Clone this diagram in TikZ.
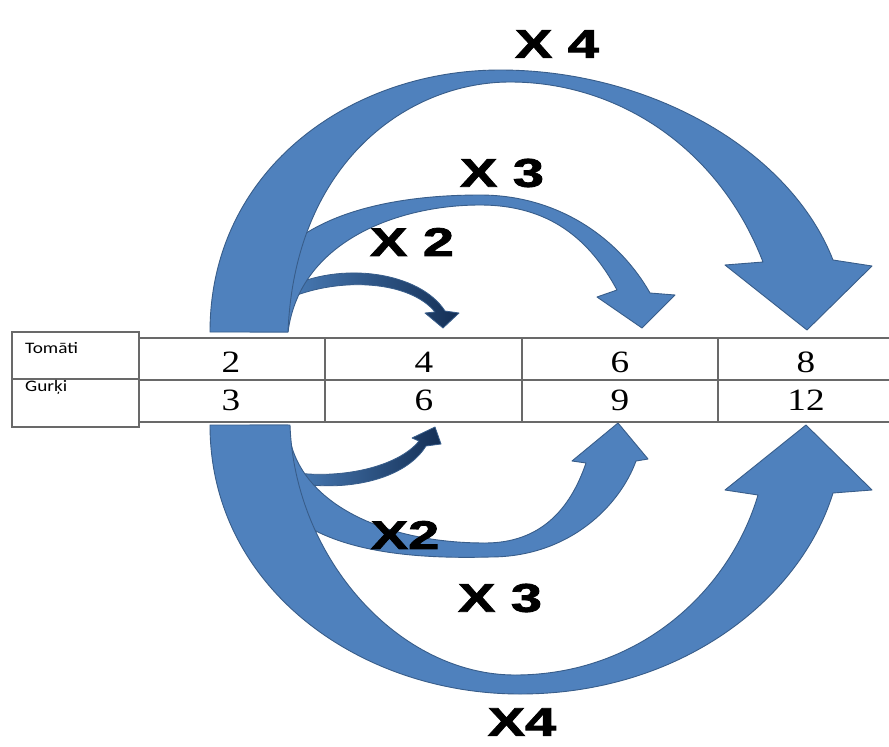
\documentclass[tikz,border=0pt]{standalone}
\usepackage{fontspec}
\usepackage{graphicx}
\setmainfont{Liberation Serif}
\newfontfamily\heavyfont[FakeBold=1.8]{Liberation Sans Bold}
\newfontfamily\cellfont{Carlito}
\definecolor{arrblue}{RGB}{79,129,189}
\definecolor{arredge}{RGB}{56,93,138}
\definecolor{xlight}{RGB}{74,125,184}
\definecolor{xdark}{RGB}{20,47,85}
\definecolor{gridgray}{RGB}{105,105,105}
\begin{document}
\begin{tikzpicture}[x=1pt,y=-1pt,
  arr/.style={fill=arrblue, draw=arredge, line width=0.9pt, line join=round},
  darr/.style={left color=xlight, right color=xdark, draw=arredge, line width=0.8pt, line join=round},
  mult/.style={font=\heavyfont\fontsize{40}{40}\selectfont, inner sep=0pt},
  num/.style={font=\fontsize{31}{31}\selectfont, inner sep=0pt},
  rowlbl/.style={font=\cellfont\fontsize{16}{16}\selectfont, inner sep=0pt, anchor=base west},
  grid/.style={draw=gridgray, line width=1.2pt}]
\useasboundingbox (0,0) rectangle (889,747);
\fill[white] (0,0) rectangle (889,747);

% ---------- upper arrows ----------
\shade[darr] (285,289) .. controls (340,260) and (420,272) .. (445,311)
  -- (459,313) -- (443,328) -- (425,313) -- (435,312)
  .. controls (410,281) and (340,276) .. (287,299) -- cycle;
\path[arr] (250,332) .. controls (250,230) and (360,195) .. (480,195)
  .. controls (560,195) and (620,240) .. (650,293)
  -- (675,295) -- (642,328) -- (597,297) -- (617,290)
  .. controls (590,240) and (550,205) .. (480,205)
  .. controls (400,205) and (300,240) .. (288,332) -- cycle;
\path[arr] (210,332) .. controls (210,170) and (350,70) .. (500,70)
  .. controls (650,70) and (790,150) .. (833,260)
  -- (872,266) -- (807,330) -- (725,265) -- (763,262)
  .. controls (720,150) and (620,82) .. (510,82)
  .. controls (410,82) and (295,160) .. (288,332) -- cycle;

% ---------- lower arrows ----------
\shade[darr] (290,482) .. controls (345,493) and (405,480) .. (426,446)
  -- (441,444) -- (435,427) -- (412,438) -- (419,441)
  .. controls (398,467) and (340,480) .. (290,472) -- cycle;
\path[arr] (250,425) .. controls (252,545) and (380,560) .. (490,557)
  .. controls (570,557) and (620,505) .. (636,461)
  -- (648,459) -- (618,423) -- (572,461) -- (586,463)
  .. controls (570,510) and (540,543) .. (485,543)
  .. controls (380,543) and (292,500) .. (288,425) -- cycle;
\path[arr] (210,425) .. controls (210,588) and (360,694) .. (520,694)
  .. controls (680,694) and (800,600) .. (833,493)
  -- (872,490) -- (806,425) -- (725,490) -- (758,495)
  .. controls (730,590) and (640,675) .. (515,675)
  .. controls (400,675) and (295,560) .. (290,425) -- cycle;

% ---------- table ----------
\filldraw[grid, fill=white] (12,332) rectangle (139,427);
\draw[grid] (12,379) -- (139,379);
\filldraw[grid, fill=white] (139,338) rectangle (900,422);
\draw[grid] (139,380) -- (900,380);
\foreach \xx in {325,522,718} \draw[grid] (\xx,338) -- (\xx,422);

\node[rowlbl] (tom) at (25,353) {\scalebox{1.2}[1]{Tomāti}};
\node[rowlbl] (gur) at (25,391) {\scalebox{1.2}[1]{Gurķi}};

\node[num] (a1) at (231,362) {\scalebox{1.2}[1]{2}};
\node[num] (a2) at (424,362) {\scalebox{1.2}[1]{4}};
\node[num] (a3) at (620,362) {\scalebox{1.2}[1]{6}};
\node[num] (a4) at (806,362) {\scalebox{1.2}[1]{8}};
\node[num] (b1) at (231,400) {\scalebox{1.2}[1]{3}};
\node[num] (b2) at (424,400) {\scalebox{1.2}[1]{6}};
\node[num] (b3) at (620,400) {\scalebox{1.2}[1]{9}};
\node[num] (b4) at (806,400) {\scalebox{1.2}[1]{12}};

% ---------- labels ----------
\node[mult] (u4) at (557,44) {\scalebox{1.4}[1]{X 4}};
\node[mult] (u3) at (502,173) {\scalebox{1.4}[1]{X 3}};
\node[mult] (u2) at (412,242) {\scalebox{1.4}[1]{X 2}};
\node[mult] (l2) at (405,535) {\scalebox{1.4}[1]{X2}};
\node[mult] (l3) at (500,598) {\scalebox{1.4}[1]{X 3}};
\node[mult] (l4) at (522,722) {\scalebox{1.4}[1]{X4}};
\end{tikzpicture}
\end{document}
